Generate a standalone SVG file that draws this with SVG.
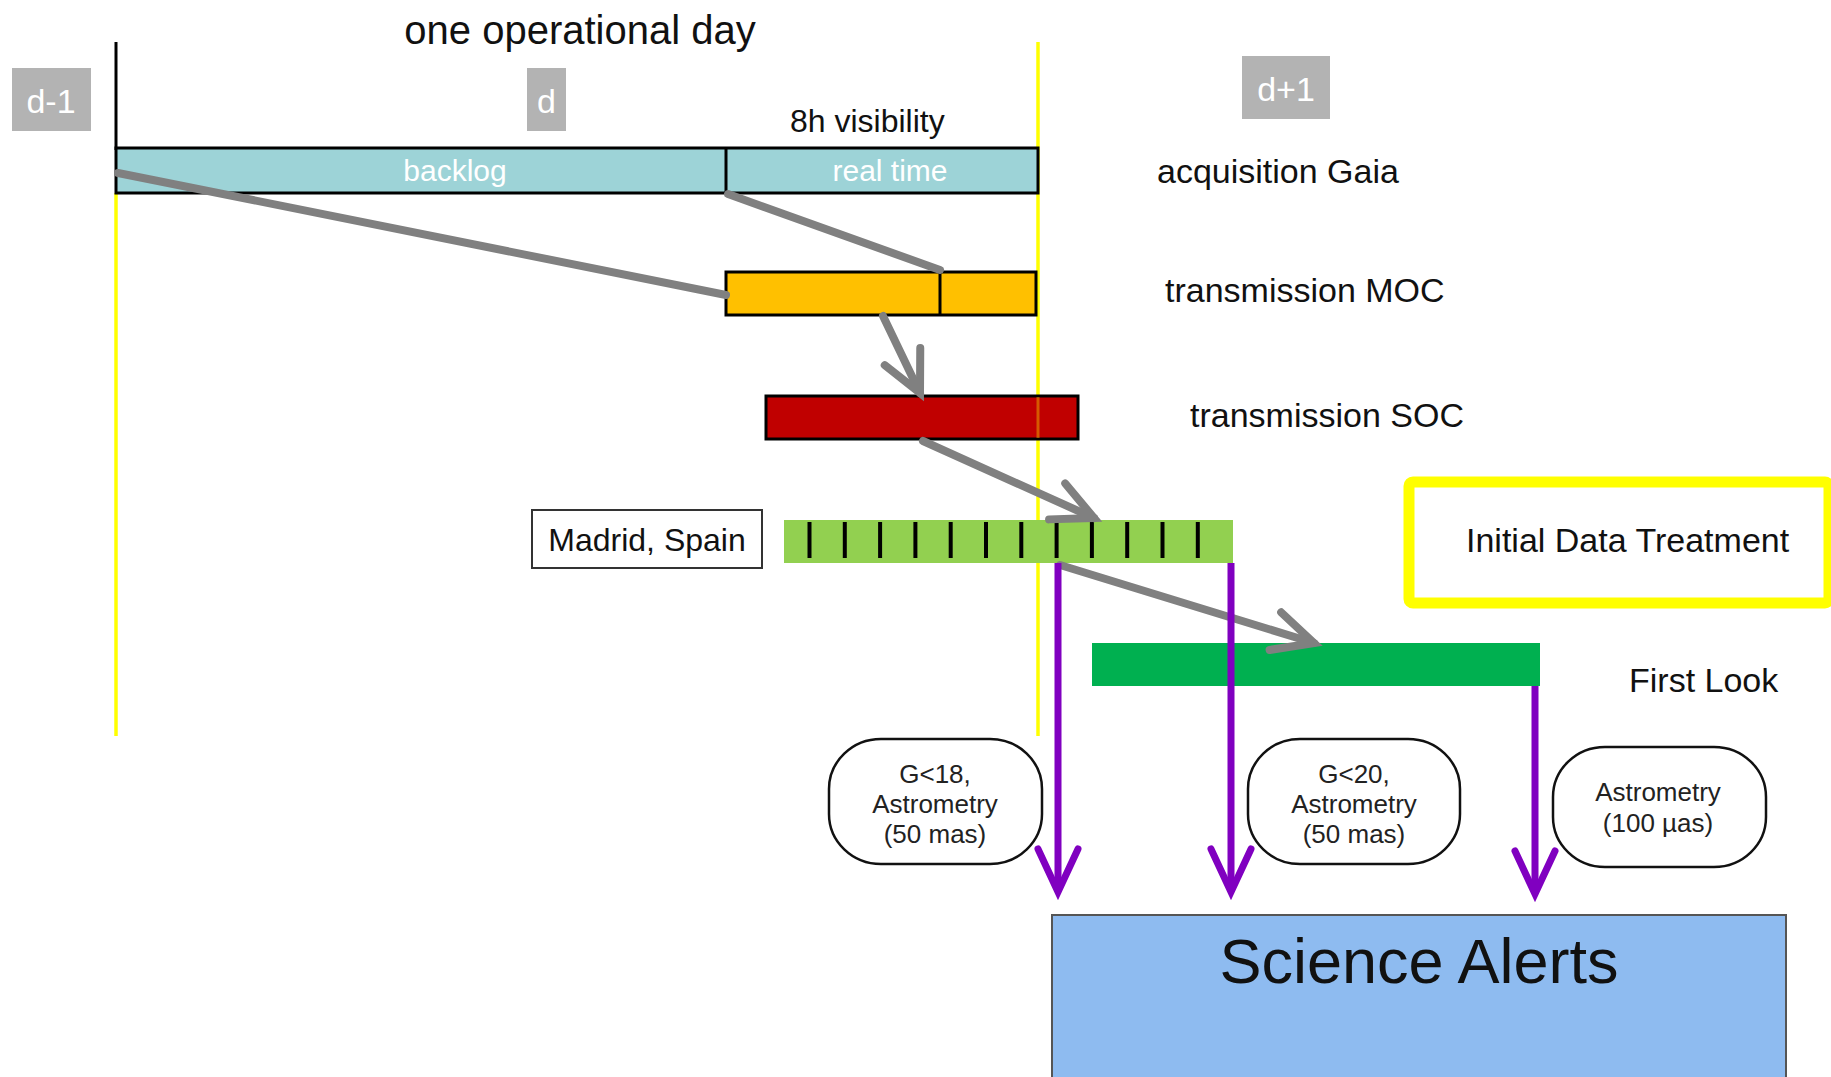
<svg xmlns="http://www.w3.org/2000/svg" width="1831" height="1077" viewBox="0 0 1831 1077">
<style>
text{font-family:"Liberation Sans",Arial,sans-serif;}
.lbl{font-size:34px;fill:#111;}
.day{fill:#B3B3B3;}
.dayt{font-size:34px;fill:#fff;text-anchor:middle;}
.bart{font-size:30px;fill:#fff;text-anchor:middle;}
.ov{fill:#fff;stroke:#111;stroke-width:2.5;}
.ovt{font-size:26px;fill:#222;text-anchor:middle;}
.gray{stroke:#808080;stroke-width:8;fill:none;stroke-linecap:round;}
.purp{stroke:#8000C0;stroke-width:7;fill:none;}
.tick{stroke:#000;stroke-width:4;}
.yl{stroke:#FFFF00;stroke-width:3.5;}
</style>
<defs>
<marker id="gh" markerUnits="userSpaceOnUse" viewBox="-50 -30 60 60" refX="0" refY="0" markerWidth="60" markerHeight="60" orient="auto" overflow="visible">
<path d="M -40.4 -19.7 L 0 0 L -40.4 19.7" fill="none" stroke="#808080" stroke-width="8" stroke-linecap="round" stroke-linejoin="miter"/>
</marker>
<marker id="ph" markerUnits="userSpaceOnUse" viewBox="-50 -30 60 60" refX="0" refY="0" markerWidth="60" markerHeight="60" orient="auto" overflow="visible">
<path d="M -43 -20 L 0 0 L -43 20" fill="none" stroke="#8000C0" stroke-width="7" stroke-linecap="round"/>
</marker>
</defs>
<rect width="1831" height="1077" fill="#fff"/>

<g id="title"><text x="580" y="44" font-size="40" fill="#111" text-anchor="middle">one operational day</text></g>

<g id="timeline-lines">
<line x1="116" y1="42" x2="116" y2="150" stroke="#000" stroke-width="3"/>
<line class="yl" x1="116" y1="193" x2="116" y2="736"/>
<line class="yl" x1="1038" y1="42" x2="1038" y2="736"/>
</g>

<g id="day-d-1"><rect class="day" x="12" y="68" width="79" height="63"/><text class="dayt" x="51" y="113">d-1</text></g>
<g id="day-d"><rect class="day" x="527" y="68" width="39" height="63"/><text class="dayt" x="546.5" y="113">d</text></g>
<g id="day-d+1"><rect class="day" x="1242" y="56" width="88" height="63"/><text class="dayt" x="1286" y="101">d+1</text></g>

<g id="visibility"><text x="790" y="132" font-size="32" fill="#111">8h visibility</text></g>

<g id="acquisition">
<rect x="116" y="148" width="922" height="45" fill="#9DD3D7" stroke="#000" stroke-width="3"/>
<line x1="726" y1="148" x2="726" y2="193" stroke="#000" stroke-width="3"/>
<text class="bart" x="455" y="181">backlog</text>
<text class="bart" x="890" y="181">real time</text>
<text class="lbl" x="1157" y="183">acquisition Gaia</text>
</g>

<g id="moc">
<rect x="726" y="272" width="310" height="43" fill="#FFC000" stroke="#000" stroke-width="3"/>
<line x1="940" y1="272" x2="940" y2="315" stroke="#000" stroke-width="3"/>
<text class="lbl" x="1165" y="302">transmission MOC</text>
</g>

<g id="soc">
<rect x="766" y="396" width="312" height="43" fill="#C00000" stroke="#000" stroke-width="3"/>
<line x1="1038" y1="397" x2="1038" y2="438" stroke="#FFFF00" stroke-width="3" opacity="0.35"/>
<text class="lbl" x="1190" y="427">transmission SOC</text>
</g>

<g id="madrid">
<rect x="532" y="510" width="230" height="58" fill="#fff" stroke="#333" stroke-width="2"/>
<text x="647" y="551" font-size="32" fill="#111" text-anchor="middle">Madrid, Spain</text>
</g>

<g id="idt-bar">
<rect x="784" y="520" width="449" height="43" fill="#92D050"/>
<g class="tick">
<line x1="809.5" y1="522" x2="809.5" y2="558"/>
<line x1="844.8" y1="522" x2="844.8" y2="558"/>
<line x1="880.1" y1="522" x2="880.1" y2="558"/>
<line x1="915.4" y1="522" x2="915.4" y2="558"/>
<line x1="950.7" y1="522" x2="950.7" y2="558"/>
<line x1="986" y1="522" x2="986" y2="558"/>
<line x1="1021.3" y1="522" x2="1021.3" y2="558"/>
<line x1="1056.6" y1="522" x2="1056.6" y2="558"/>
<line x1="1091.9" y1="522" x2="1091.9" y2="558"/>
<line x1="1127.2" y1="522" x2="1127.2" y2="558"/>
<line x1="1162.5" y1="522" x2="1162.5" y2="558"/>
<line x1="1197.8" y1="522" x2="1197.8" y2="558"/>
</g>
</g>

<g id="idt-label">
<rect x="1409" y="482" width="420" height="121" rx="4" fill="none" stroke="#FFFF00" stroke-width="11"/>
<text class="lbl" x="1466" y="552">Initial Data Treatment</text>
</g>

<g id="first-look">
<rect x="1092" y="643" width="448" height="43" fill="#00B050"/>
<text class="lbl" x="1629" y="692">First Look</text>
</g>

<g id="oval-g18">
<rect class="ov" x="829" y="739" width="213" height="125" rx="52" ry="50"/>
<text class="ovt" x="935" y="783">G&lt;18,</text>
<text class="ovt" x="935" y="813">Astrometry</text>
<text class="ovt" x="935" y="843">(50 mas)</text>
</g>
<g id="oval-g20">
<rect class="ov" x="1248" y="739" width="212" height="125" rx="52" ry="50"/>
<text class="ovt" x="1354" y="783">G&lt;20,</text>
<text class="ovt" x="1354" y="813">Astrometry</text>
<text class="ovt" x="1354" y="843">(50 mas)</text>
</g>
<g id="oval-100">
<rect class="ov" x="1553" y="747" width="213" height="120" rx="52" ry="50"/>
<text class="ovt" x="1658" y="801">Astrometry</text>
<text class="ovt" x="1658" y="832">(100 µas)</text>
</g>

<g id="science-alerts">
<rect x="1052" y="915" width="734" height="170" fill="#8EBBF0" stroke="#555" stroke-width="2"/>
<text x="1419" y="983" font-size="63" fill="#111" text-anchor="middle">Science Alerts</text>
</g>

<g id="connectors">
<line class="gray" x1="118" y1="173" x2="726" y2="295"/>
<line class="gray" x1="728" y1="194" x2="940" y2="270"/>
<line class="gray" x1="883" y1="316" x2="920" y2="393" marker-end="url(#gh)"/>
<line class="gray" x1="923" y1="441" x2="1094" y2="518" marker-end="url(#gh)"/>
<line class="gray" x1="1060" y1="565" x2="1314" y2="643" marker-end="url(#gh)"/>
<line class="purp" x1="1058" y1="563" x2="1058" y2="892" marker-end="url(#ph)"/>
<line class="purp" x1="1231" y1="563" x2="1231" y2="892" marker-end="url(#ph)"/>
<line class="purp" x1="1535" y1="686" x2="1535" y2="894" marker-end="url(#ph)"/>
</g>
</svg>
